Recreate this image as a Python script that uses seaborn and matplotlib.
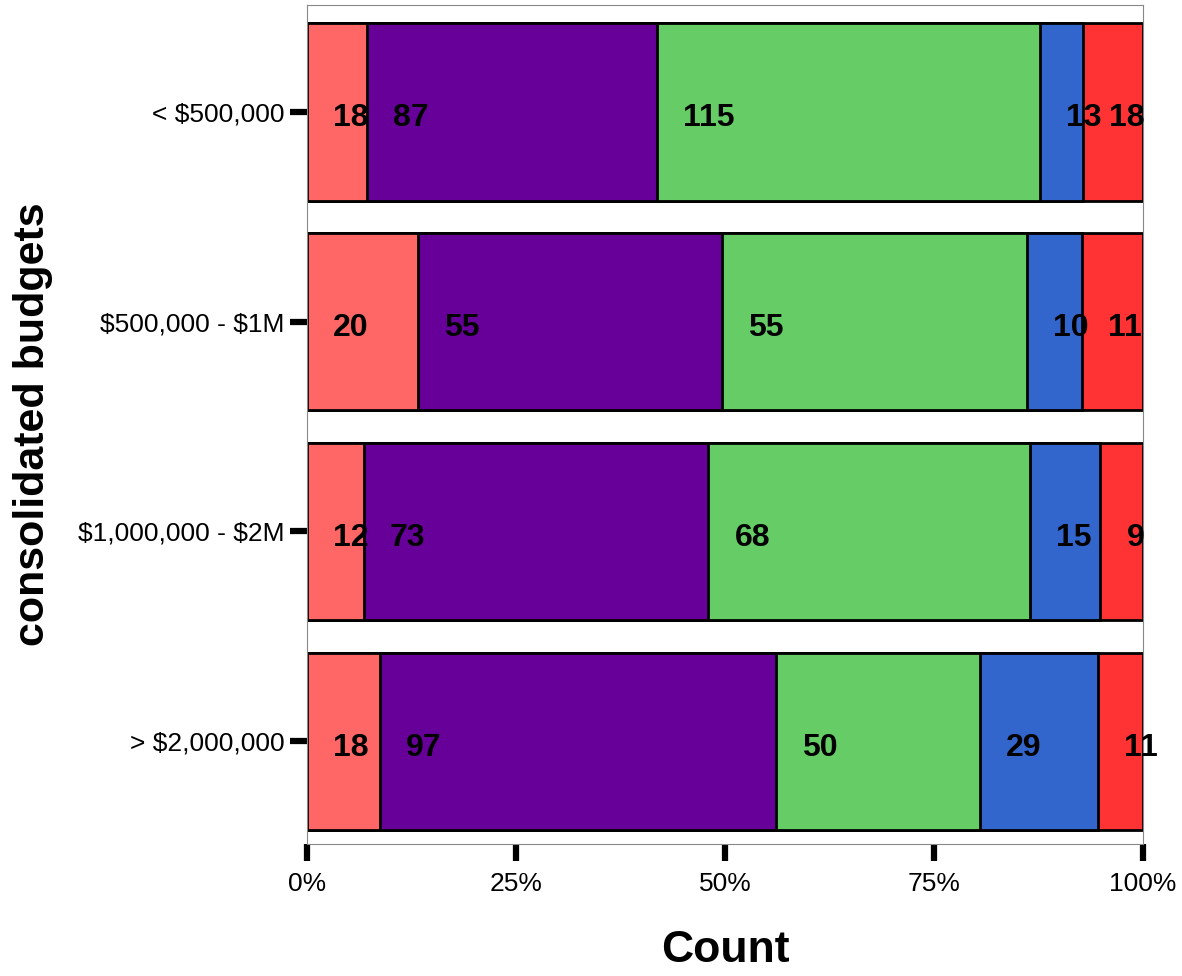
import matplotlib
matplotlib.use("Agg")
import matplotlib.pyplot as plt
import seaborn as sns
import pandas as pd
import numpy as np

budgets = ["< $500,000", "$500,000 - $1M", "$1,000,000 - $2M", "> $2,000,000"]
seg1 = [18, 20, 12, 18]
seg2 = [87, 55, 73, 97]
seg3 = [115, 55, 68, 50]
seg4 = [13, 10, 15, 29]
seg5 = [18, 11, 9, 11]
series = [seg1, seg2, seg3, seg4, seg5]
colors = ["#FF6666", "#660099", "#66CC66", "#3366CC", "#FF3333"]
xtick_vals = [0, 0.25, 0.5, 0.75, 1.0]
xtick_labels = ["0%", "25%", "50%", "75%", "100%"]

sns.set_theme(style="white")
plt.rcParams["font.family"] = ["Liberation Sans", "DejaVu Sans"]

fig = plt.figure(figsize=(11.82, 9.76), dpi=100)
ax = fig.add_axes([307/1182, 1 - 844/976, (1143-307)/1182, (844-5)/976])

counts = np.array(series, dtype=float)  # shape (5, 4)
totals = counts.sum(axis=0)
props = counts / totals
cum_end = np.cumsum(props, axis=0)
cum_start = cum_end - props

# draw cumulative bars from the largest to smallest so they stack visually
for i in range(len(series) - 1, -1, -1):
    df = pd.DataFrame({"budget": budgets, "end": cum_end[i]})
    sns.barplot(data=df, x="end", y="budget", orient="h", order=budgets,
                color=colors[i], saturation=1, width=0.845,
                edgecolor="black", linewidth=2.0, ax=ax)

for i in range(len(series)):
    for j in range(len(budgets)):
        ax.text(cum_start[i, j] + 0.031, j + 0.03, f"{int(counts[i, j])}",
                ha="left", va="center", fontsize=23, fontweight="bold",
                color="black", clip_on=False, zorder=10)

ax.set_xlim(0, 1)
ax.set_ylim(3.49, -0.51)
ax.set_xticks(xtick_vals)
ax.set_xticklabels(xtick_labels)
ax.set_yticks(range(len(budgets)))
ax.set_yticklabels(budgets)
for lab in ax.get_yticklabels():
    lab.set_parse_math(False)
ax.tick_params(axis="both", which="both", length=12, width=4.5, color="black",
               labelsize=19, labelcolor="black", direction="out",
               bottom=True, left=True)
ax.tick_params(axis="x", pad=8)
ax.tick_params(axis="y", pad=4)

for sp in ax.spines.values():
    sp.set_color("#888888")
    sp.set_linewidth(0.8)
    sp.set_visible(True)

ax.set_xlabel("Count", fontsize=32, fontweight="bold", labelpad=25, color="black")
ax.set_ylabel("consolidated budgets", fontsize=31, fontweight="bold", labelpad=18, color="black")
ax.grid(False)

fig.savefig("out.png", dpi=100)
